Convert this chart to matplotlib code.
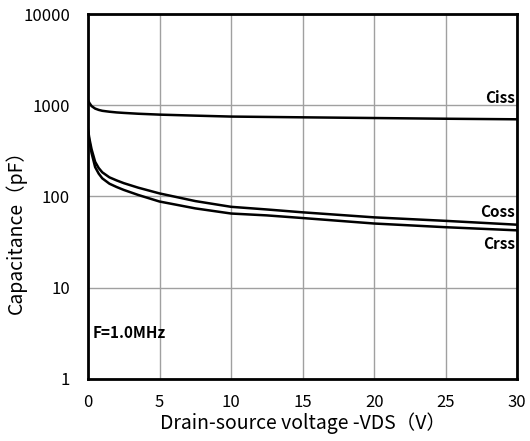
"""Capacitance vs drain-source voltage chart (Ciss / Coss / Crss)."""

import matplotlib
matplotlib.use('Agg')
import matplotlib.pyplot as plt
from matplotlib.ticker import FixedLocator, FixedFormatter, NullLocator

plt.rcParams['font.family'] = ['Noto Sans CJK SC', 'DejaVu Sans']

# values (pF)
vds = [0.0, 0.1, 0.25, 0.5, 0.75, 1.0, 1.5, 2.0, 2.5, 3.5, 5.0, 7.5, 10.0, 12.5, 15.0, 20.0, 25.0, 30.0]
ciss = [1140, 1060, 980, 920, 890, 870, 850, 835, 825, 808, 790, 770, 752, 745, 738, 725, 712, 702]
coss = [545, 430, 330, 240, 205, 184, 162, 150, 140, 125, 108, 89, 77, 72, 67, 59, 54, 49]
crss = [515, 400, 300, 210, 178, 158, 138, 127, 118, 104, 88, 74, 65, 62, 58, 50.5, 46, 42.5]

curve_labels = ['Ciss', 'Coss', 'Crss']
label_y = [975, 68, 30]
label_va = ['bottom', 'center', 'center']
x_ticks = [0, 5, 10, 15, 20, 25, 30]
y_ticks = [1, 10, 100, 1000, 10000]
y_tick_labels = ['1', '10', '100', '1000', '10000']

fig = plt.figure(figsize=(5.3, 4.41), dpi=100)
ax = fig.add_axes([0.166, 0.141, 0.810, 0.827])

for series in (ciss, coss, crss):
    ax.plot(vds, series, color='black', lw=1.8, zorder=3)

ax.set_yscale('log')
ax.set_xlim(0, 30)
ax.set_ylim(1, 10000)
ax.xaxis.set_major_locator(FixedLocator(x_ticks))
ax.yaxis.set_major_locator(FixedLocator(y_ticks))
ax.yaxis.set_major_formatter(FixedFormatter(y_tick_labels))
ax.yaxis.set_minor_locator(NullLocator())
ax.tick_params(length=0, labelsize=12)
ax.tick_params(axis='x', pad=11)
ax.tick_params(axis='y', pad=13)
ax.grid(True, color='#a0a0a0', lw=1.0)
for side in ax.spines.values():
    side.set_linewidth(2)
    side.set_color('black')

# curve names sit just inside the right edge
for name, y, va in zip(curve_labels, label_y, label_va):
    ax.text(29.85, y, name, ha='right', va=va, fontsize=11, fontweight='bold')

ax.text(0.3, 3.2, 'F=1.0MHz', ha='left', va='center', fontsize=11, fontweight='bold')

ax.set_xlabel('Drain-source voltage -VDS（V）', fontsize=14, labelpad=1)
ax.set_ylabel('Capacitance（pF）', fontsize=14)
ax.yaxis.set_label_coords(-0.142, 0.416)

fig.savefig('out.png', dpi=100)
